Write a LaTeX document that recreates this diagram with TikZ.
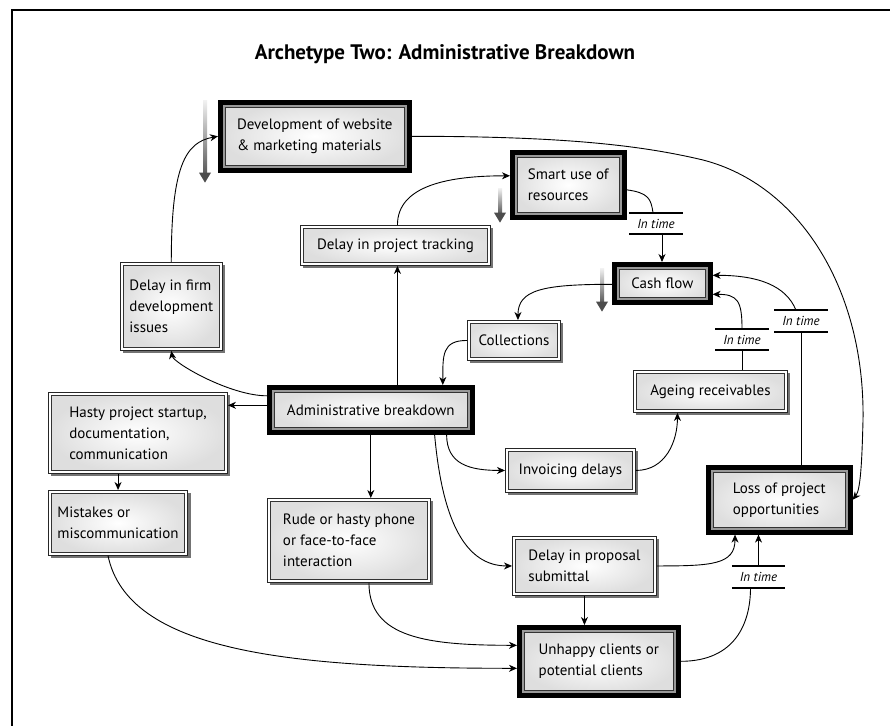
\documentclass[tikz,border=0pt]{standalone}
\usepackage{fontspec}
\setmainfont{PT Sans}
\usetikzlibrary{arrows.meta,shadows,calc}

% grey "delay" marker: shaded shaft with a dark head, from #1 down to #2
\newcommand\lagmark[2]{%
  \path #1 coordinate (lagA) #2 coordinate (lagB);
  \shade[top color=black!5, bottom color=black!65]
    ($(lagA)+(-2,0)$) rectangle ($(lagB)+(2,-9)$);
  \fill[black!70] ($(lagB)+(-6,-10)$) -- ($(lagB)+(6,-10)$) -- (lagB) -- cycle;
}

\begin{document}
\begin{tikzpicture}[x=1pt,y=-1pt,
  txt/.style={font=\fontsize{15}{21}\selectfont},
  box/.style={txt, anchor=north west, align=left, inner xsep=9pt, inner ysep=5pt,
    shade, inner color=white, outer color=black!13},
  shadowed/.style={drop shadow={shadow xshift=3pt, shadow yshift=-3pt,
    fill=black!55, opacity=1}},
  dbox/.style={box, shadowed, draw=black!85, line width=0.9pt,
    path picture={
      \draw[white, line width=6.2pt]
        (path picture bounding box.south west) rectangle
        (path picture bounding box.north east);
      \draw[black!80, line width=0.8pt]
        ([shift={(3.2pt,3.2pt)}]path picture bounding box.south west) rectangle
        ([shift={(-3.2pt,-3.2pt)}]path picture bounding box.north east);}},
  tbox/.style={box, shadowed, draw=black, line width=4.6pt,
    path picture={
      \draw[black!40, line width=9pt]
        (path picture bounding box.south west) rectangle
        (path picture bounding box.north east);
      \draw[black!80, line width=0.5pt]
        ([shift={(4.7pt,4.7pt)}]path picture bounding box.south west) rectangle
        ([shift={(-4.7pt,-4.7pt)}]path picture bounding box.north east);}},
  tlbl/.style={font=\fontsize{13}{14}\selectfont\itshape, minimum width=53pt,
    minimum height=21pt, inner sep=0pt},
  bar/.style={line width=1.8pt},
  con/.style={line width=0.9pt, -{Stealth[length=8pt,width=7pt,inset=2.5pt]}},
  lnk/.style={line width=0.9pt},
]
\useasboundingbox (0,0) rectangle (890,725);
\fill[white] (0,0) rectangle (890,725);

% page frame
\draw[line width=1.5pt] (12,730) -- (12,10) -- (895,10);

\node[font=\fontsize{21}{24}\selectfont\bfseries] (title) at (445,54)
  {Archetype Two: Administrative Breakdown};

% boxes
\node[tbox, minimum width=189, minimum height=68] (dev) at (218,100)
  {Development of website\\\& marketing materials};
\node[tbox, minimum width=112, minimum height=65] (smart) at (510,150)
  {Smart use of\\resources};
\node[dbox, minimum width=190, minimum height=40] (track) at (300,225)
  {Delay in project tracking};
\node[tbox, minimum width=96, minimum height=38] (cash) at (612,262)
  {Cash flow};
\node[dbox, minimum width=100, minimum height=88] (firm) at (120,262)
  {Delay in firm\\development\\issues};
\node[dbox, minimum width=93, minimum height=40] (coll) at (467,320)
  {Collections};
\node[tbox, minimum width=203, minimum height=45] (admin) at (267,385)
  {Administrative breakdown};
\node[dbox, minimum width=179, minimum height=81] (hasty) at (48,392)
  {Hasty project startup,\\documentation,\\communication};
\node[dbox, minimum width=139, minimum height=65] (mist) at (48,490)
  {Mistakes or\\miscommunication};
\node[dbox, minimum width=163, minimum height=84] (rude) at (267,498)
  {Rude or hasty phone\\or face-to-face\\interaction};
\node[dbox, minimum width=130, minimum height=44] (inv) at (505,448)
  {Invoicing delays};
\node[dbox, minimum width=154, minimum height=42] (age) at (633,370)
  {Ageing receivables};
\node[tbox, minimum width=142, minimum height=65] (loss) at (706,465)
  {Loss of project\\opportunities};
\node[dbox, minimum width=144, minimum height=59] (prop) at (512,536)
  {Delay in proposal\\submittal};
\node[tbox, minimum width=159, minimum height=68] (unh) at (517,625)
  {Unhappy clients or\\potential clients};

% "In time" labels
\node[tlbl] (ta) at (656,223.5) {In time};
\node[tlbl] (tb) at (742,339.5) {In time};
\node[tlbl] (tc) at (801,321) {In time};
\node[tlbl] (td) at (758.5,577) {In time};
\foreach \t in {ta,tb,tc,td}{
  \draw[bar] (\t.north west) -- (\t.north east);
  \draw[bar] (\t.south west) -- (\t.south east);
}

% delay markers
\lagmark{($(dev.north west)+(-13,0)$)}{($(dev.south west)+(-13,10)$)}
\lagmark{($(smart.north west)+(-10,38)$)}{($(smart.south west)+(-10,3)$)}
\lagmark{($(cash.north west)+(-10,6)$)}{($(cash.south west)+(-10,7)$)}

% connectors
\draw[con] (firm.north) .. controls +(0,-95) and +(-33,6) .. (dev.west);
\draw[con] (dev.east) .. controls +(150,0) and (640,145) .. (703,160)
                      .. controls (800,185) and (865,290) .. (863,420)
                      .. controls (862,460) and +(8,-10) .. (loss.east);
\draw[con] ([xshift=2pt]track.north) .. controls +(0,-40) and +(-60,0)
  .. ([yshift=9pt]smart.west);
\draw[lnk] ([yshift=-5pt]smart.east) .. controls +(22,3) and +(-2,-14)
  .. ([xshift=-3pt]ta.north);
\draw[con] ([xshift=6pt]ta.south) -- ([xshift=6pt]ta.south |- cash.north);
\draw[con] ([yshift=-1pt]cash.west) .. controls +(-70,0) and +(0,-30)
  .. ([xshift=4pt]coll.north);
\draw[con] (coll.west) .. controls +(-25,0) and +(0,-30)
  .. ([xshift=72pt]admin.north);
\draw[con] ([xshift=2pt]track.south |- admin.north) -- ([xshift=2pt]track.south);
\draw[con] ([yshift=14pt]admin.west) .. controls +(-37,0) and +(2,12)
  .. (firm.south);
\draw[con] ([yshift=4.5pt]admin.west) -- ([yshift=4.5pt]admin.west -| hasty.east);
\draw[con] (mist.north |- hasty.south) -- (mist.north);
\draw[con] (admin.south) -- (admin.south |- rude.north);
\draw[con] ([xshift=-28pt]admin.south east) .. controls +(0,30) and +(-35,0) .. (inv.west);
\draw[con] ([xshift=-40pt]admin.south east) .. controls +(8,90) and +(-45,0) .. (prop.west);
\draw[con] (inv.east) .. controls +(30,0) and +(0,28) .. ([xshift=-33pt]age.south);
\draw[lnk] (tb.south |- age.north) -- (tb.south);
\draw[con] (tb.north) .. controls +(0,-28) and +(25,0) .. ([yshift=-11pt]cash.east);
\draw[lnk] (tc.south |- loss.north) -- (tc.south);
\draw[con] ([xshift=-5pt]tc.north) .. controls +(-10,-25) and +(45,0)
  .. ([yshift=8pt]cash.east);
\draw[con] (prop.east) .. controls +(55,0) and +(0,30) .. ([xshift=29pt]loss.south west);
\draw[lnk] (unh.east) .. controls +(55,0) and +(0,35) .. ([xshift=-8pt]td.south);
\draw[con] (td.north) -- (td.north |- loss.south);
\draw[con] (prop.south) -- (prop.south |- unh.north);
\draw[con] ([xshift=20pt]rude.south) .. controls +(0,55) and +(-90,0)
  .. ([yshift=16pt]unh.west);
\draw[con] ([xshift=-10pt]mist.south) .. controls +(20,95) and +(-230,0)
  .. ([yshift=-7pt]unh.west);
\end{tikzpicture}
\end{document}
